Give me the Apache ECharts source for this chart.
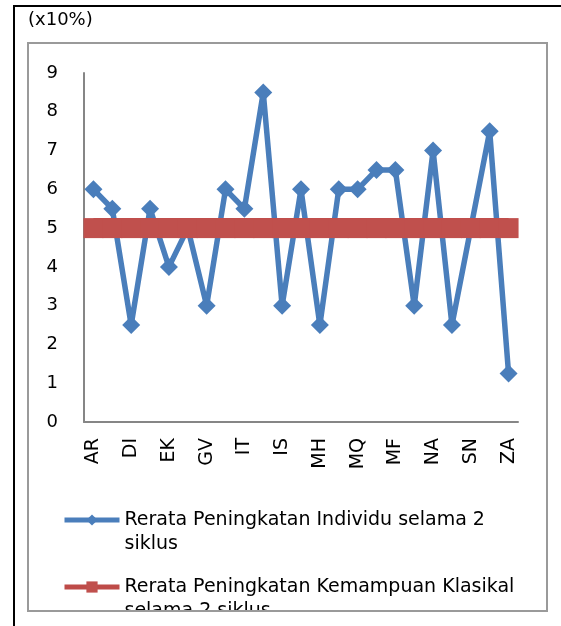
<!DOCTYPE html>
<html>
<head>
<meta charset="utf-8">
<script src="https://cdn.jsdelivr.net/npm/echarts@6/dist/echarts.min.js"></script>
<style>
  html, body { margin: 0; padding: 0; background: #fff; }
  #chart { position: absolute; left: 0; top: 0; width: 561px; height: 611px; }
  .frame-left { position: absolute; left: 13px; top: 5px; width: 2px; height: 621px; background: #000; }
  .frame-top { position: absolute; left: 13px; top: 5px; width: 548px; height: 2px; background: #000; }
  .box { position: absolute; left: 27px; top: 42px; width: 521px; height: 570px; box-sizing: border-box; border: 2px solid #9a9a9a; pointer-events: none; }
</style>
</head>
<body>
<div id="chart"></div>
<div class="frame-left"></div>
<div class="frame-top"></div>
<div class="box"></div>
<script>
// categories (only every other name is printed on the axis)
const students = ['AR', '', 'DI', '', 'EK', '', 'GV', '', 'IT', '', 'IS', '', 'MH', '', 'MQ', '', 'MF', '', 'NA', '', 'SN', '', 'ZA']
// rerata peningkatan individu (x10%)
const individu = [6, 5.5, 2.5, 5.5, 4, 5, 3, 6, 5.5, 8.5, 3, 6, 2.5, 6, 6, 6.5, 6.5, 3, 7, 2.5, 5, 7.5, 1.25]
// rerata klasikal
const klasikal = [5, 5, 5, 5, 5, 5, 5, 5, 5, 5, 5, 5, 5, 5, 5, 5, 5, 5, 5, 5, 5, 5, 5]
const yTicks = [0, 1, 2, 3, 4, 5, 6, 7, 8, 9]

const nameIndividu = 'Rerata Peningkatan Individu selama 2 siklus'
const nameKlasikal = 'Rerata Peningkatan Kemampuan Klasikal selama 2 siklus'
const FONT = 'DejaVu Sans'

const chart = echarts.init(document.getElementById('chart'))

// the leading empty line keeps the first text line level with the icon
function legendBox(name, top, text) {
  return {
    data: [name],
    orient: 'vertical',
    left: 62,
    top: top,
    padding: 0,
    itemWidth: 55,
    itemHeight: 14,
    lineStyle: { width: 5 },
    formatter: () => '\n' + text,
    textStyle: {
      fontFamily: FONT,
      fontSize: 19,
      color: '#000',
      lineHeight: 24
    }
  }
}

const option = {
  animation: false,
  title: {
    text: '(x10%)',
    left: 28,
    top: 11,
    padding: 0,
    textStyle: { fontFamily: FONT, fontSize: 18, fontWeight: 'normal', color: '#000' }
  },
  legend: [
    legendBox(nameIndividu, 484, 'Rerata Peningkatan Individu selama 2\nsiklus'),
    legendBox(nameKlasikal, 551, 'Rerata Peningkatan Kemampuan Klasikal\nselama 2 siklus')
  ],
  grid: { left: 84, right: 43, top: 73, bottom: 189, outerBoundsMode: 'none' },
  xAxis: {
    type: 'category',
    data: students,
    boundaryGap: true,
    axisLine: { lineStyle: { color: '#868686', width: 2 } },
    axisTick: { show: false },
    axisLabel: {
      interval: 0,
      rotate: 90,
      margin: 16,
      fontFamily: FONT,
      fontSize: 19,
      color: '#000'
    }
  },
  yAxis: {
    type: 'value',
    min: yTicks[0],
    max: yTicks[yTicks.length - 1],
    interval: 1,
    splitLine: { show: false },
    axisLine: { show: true, lineStyle: { color: '#868686', width: 2 } },
    axisTick: { show: false },
    axisLabel: { margin: 26, fontFamily: FONT, fontSize: 18, color: '#000' }
  },
  series: [
    {
      name: nameIndividu,
      type: 'line',
      data: individu,
      symbol: 'diamond',
      symbolSize: 18,
      color: '#4A7EBB',
      lineStyle: { width: 5.5, color: '#4A7EBB' },
      itemStyle: { color: '#4A7EBB' }
    },
    {
      name: nameKlasikal,
      type: 'line',
      data: klasikal,
      symbol: 'rect',
      symbolSize: 20,
      color: '#BE4B48',
      lineStyle: { width: 20, color: '#BE4B48' },
      itemStyle: { color: '#C0504D' }
    }
  ]
}

chart.setOption(option)
window.onresize = function () {
  chart.resize()
}
</script>
</body>
</html>
